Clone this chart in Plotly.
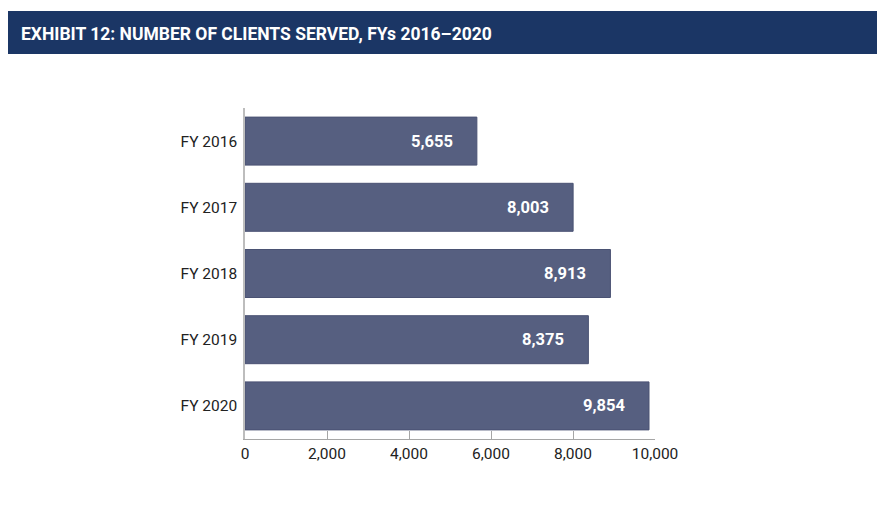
import plotly.graph_objects as go

categories = ["FY 2016", "FY 2017", "FY 2018", "FY 2019", "FY 2020"]
clients = [5655, 8003, 8913, 8375, 9854]
tick_vals = [0, 2000, 4000, 6000, 8000, 10000]
tick_text = ["0", "2,000", "4,000", "6,000", "8,000", "10,000"]
title_text = "EXHIBIT 12: NUMBER OF CLIENTS SERVED, FYs 2016\u20132020"

OFF = 8  # page body margin
W, H = 894 - OFF, 516 - OFF
L, R, T, B = 245 - OFF, 655 - OFF, 108 - OFF, 439 - OFF
pw, ph = R - L, B - T

def px(x):
    return (x - OFF - L) / pw

def py(y):
    return (B - (y - OFF)) / ph

fig = go.Figure()
fig.add_trace(go.Bar(
    y=categories, x=clients, orientation="h",
    marker=dict(color="#565f80", line=dict(color="#4a5273", width=1)),
    hoverinfo="skip",
))

for c, v in zip(categories, clients):
    fig.add_annotation(
        x=v, y=c, xref="x", yref="y", text=f"<b>{v:,}</b>",
        showarrow=False, xanchor="right", xshift=-22,
        font=dict(family="Roboto", size=16.5, color="white"),
    )

fig.add_shape(type="rect", xref="paper", yref="paper",
              x0=px(8), x1=px(877), y0=py(54), y1=py(11),
              fillcolor="#1b3665", line=dict(width=0), layer="below")
fig.add_annotation(xref="paper", yref="paper", x=px(19), y=py(34),
                   xanchor="left", yanchor="middle", showarrow=False,
                   text=f"<b>{title_text}</b>",
                   font=dict(family="Roboto", size=17.5, color="white"))

fig.update_layout(
    width=W, height=H,
    margin=dict(l=L, r=W - R, t=T, b=H - B, pad=0),
    paper_bgcolor="white", plot_bgcolor="white",
    showlegend=False, bargap=0.275,
    font=dict(family="Roboto", size=15.5, color="#222222"),
)
fig.update_xaxes(range=[0, 10000], tickvals=tick_vals, ticktext=tick_text,
                 showgrid=False, zeroline=False, showline=True,
                 linecolor="#a6a6a6", linewidth=1, ticks="inside",
                 ticklen=8, tickcolor="#a6a6a6", ticklabelstandoff=0,
                 tickfont=dict(family="Roboto", size=15.5, color="#222222"))
fig.update_yaxes(autorange="reversed", showgrid=False, zeroline=False,
                 showline=True, linecolor="#bdbdbd", linewidth=1.5,
                 ticks="", ticklabelstandoff=3,
                 tickfont=dict(family="Roboto", size=15.5, color="#222222"))

fig.write_html("out.html")
